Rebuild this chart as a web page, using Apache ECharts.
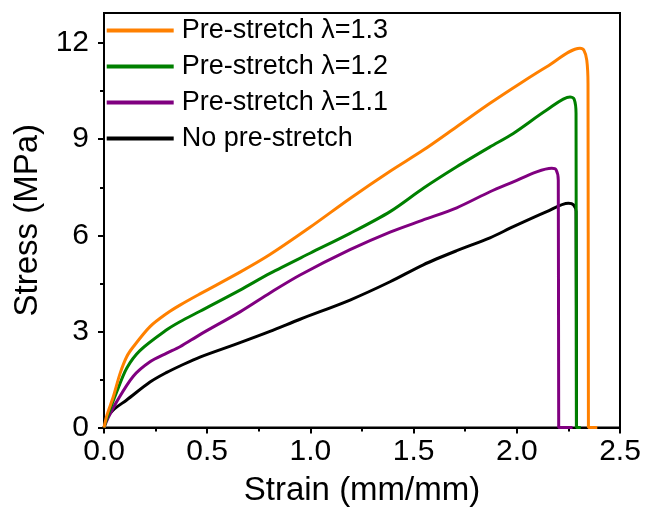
<!DOCTYPE html>
<html>
<head>
<meta charset="utf-8">
<script src="https://cdn.jsdelivr.net/npm/echarts@6/dist/echarts.min.js"></script>
<style>
html,body{margin:0;padding:0;background:#fff;}
#chart{width:647px;height:509px;}
</style>
</head>
<body>
<div id="chart"></div>
<script>
// ---- data ----
const seriesNames = ['Pre-stretch \u03bb=1.3', 'Pre-stretch \u03bb=1.2', 'Pre-stretch \u03bb=1.1', 'No pre-stretch'];
const seriesColors = ['#ff8000', '#008000', '#800080', '#000000'];

const strain13 = [0, 0.015, 0.045, 0.078, 0.110, 0.142, 0.223, 0.304, 0.368, 0.465, 0.659, 0.804, 0.998, 1.192, 1.386, 1.547, 1.709, 1.870, 2.016, 2.145, 2.306, 2.325, 2.339, 2.345, 2.347, 2.39];
const stress13 = [0, 0.40, 0.96, 1.69, 2.21, 2.52, 3.15, 3.56, 3.82, 4.17, 4.85, 5.40, 6.25, 7.15, 8.00, 8.66, 9.39, 10.12, 10.74, 11.26, 11.84, 11.78, 11.47, 10.74, 0, 0];

const strain12 = [0, 0.02, 0.061, 0.110, 0.174, 0.304, 0.368, 0.465, 0.659, 0.804, 0.998, 1.192, 1.386, 1.547, 1.709, 1.870, 1.983, 2.145, 2.258, 2.278, 2.287, 2.289, 2.31];
const stress12 = [0, 0.40, 1.10, 1.85, 2.40, 3.05, 3.30, 3.63, 4.29, 4.81, 5.44, 6.06, 6.74, 7.47, 8.14, 8.76, 9.18, 9.91, 10.32, 10.25, 9.81, 0, 0];

const strain11 = [0, 0.02, 0.061, 0.142, 0.223, 0.304, 0.368, 0.465, 0.659, 0.804, 0.950, 1.192, 1.386, 1.547, 1.709, 1.870, 1.983, 2.096, 2.169, 2.190, 2.201, 2.203, 2.27];
const stress11 = [0, 0.30, 0.80, 1.60, 2.05, 2.32, 2.52, 2.90, 3.61, 4.20, 4.76, 5.55, 6.10, 6.48, 6.86, 7.36, 7.67, 7.98, 8.09, 8.05, 7.72, 0, 0];

const strain10 = [0, 0.015, 0.045, 0.110, 0.223, 0.304, 0.368, 0.465, 0.659, 0.804, 0.950, 1.192, 1.386, 1.547, 1.709, 1.870, 1.983, 2.145, 2.250, 2.275, 2.287, 2.289];
const stress10 = [0, 0.30, 0.55, 0.86, 1.42, 1.72, 1.92, 2.20, 2.65, 3.00, 3.38, 3.98, 4.55, 5.08, 5.52, 5.92, 6.27, 6.74, 7.00, 6.95, 6.74, 0];

const xTicks = [0, 0.5, 1.0, 1.5, 2.0, 2.5];
const yTicks = [0, 3, 6, 9, 12];
const yMinorTicks = [1.5, 4.5, 7.5, 10.5];

const strains = [strain13, strain12, strain11, strain10];
const stresses = [stress13, stress12, stress11, stress10];

const FONT = 'Liberation Sans, Arial, sans-serif';
const chart = echarts.init(document.getElementById('chart'), null, {renderer: 'canvas'});

const series = seriesNames.map((n, i) => ({
  name: n,
  type: 'line',
  data: strains[i].map((x, j) => [x, stresses[i][j]]),
  showSymbol: false,
  symbol: 'none',
  smooth: 0.3,
  lineStyle: {color: seriesColors[i], width: 3},
  itemStyle: {color: seriesColors[i]},
  z: 10 - i,
  animation: false
}));

chart.setOption({
  animation: false,
  backgroundColor: '#fff',
  grid: {left: 104, right: 27, top: 13, bottom: 81.5, show: true, borderColor: '#000', borderWidth: 2, backgroundColor: 'transparent', containLabel: false, outerBoundsMode: 'none'},
  legend: {
    orient: 'vertical',
    left: 101.7,
    top: 12,
    icon: 'rect',
    itemWidth: 67,
    itemHeight: 4,
    itemGap: 9,
    data: seriesNames,
    textStyle: {fontFamily: FONT, fontSize: 27, color: '#000', padding: [0, 0, 0, 3]}
  },
  xAxis: {
    type: 'value',
    min: 0, max: 2.5, interval: 0.5,
    name: 'Strain (mm/mm)',
    nameLocation: 'middle',
    nameGap: 47,
    nameTextStyle: {fontFamily: FONT, fontSize: 33, color: '#000'},
    axisLine: {lineStyle: {color: '#000', width: 2}},
    axisTick: {inside: false, length: 6, customValues: xTicks, lineStyle: {color: '#000', width: 2}},
    minorTick: {show: true, splitNumber: 2, length: 4, lineStyle: {color: '#000', width: 2}},
    splitLine: {show: false},
    axisLabel: {fontFamily: FONT, fontSize: 30, color: '#000', margin: 9, customValues: xTicks, formatter: v => v.toFixed(1)}
  },
  yAxis: [{
    type: 'value',
    min: 0, max: 12.94,
    position: 'left',
    name: 'Stress (MPa)',
    nameLocation: 'middle',
    nameGap: 56,
    nameRotate: 90,
    nameTextStyle: {fontFamily: FONT, fontSize: 33, color: '#000'},
    axisLine: {lineStyle: {color: '#000', width: 2}},
    axisTick: {inside: false, length: 6, customValues: yTicks, lineStyle: {color: '#000', width: 2}},
    splitLine: {show: false},
    axisLabel: {fontFamily: FONT, fontSize: 30, color: '#000', margin: 15, customValues: yTicks}
  }, {
    type: 'value',
    min: 0, max: 12.94,
    position: 'left',
    axisLine: {show: false},
    axisTick: {inside: false, length: 4, customValues: yMinorTicks, lineStyle: {color: '#000', width: 2}},
    splitLine: {show: false},
    axisLabel: {show: false}
  }],
  series: series
});
</script>
</body>
</html>
